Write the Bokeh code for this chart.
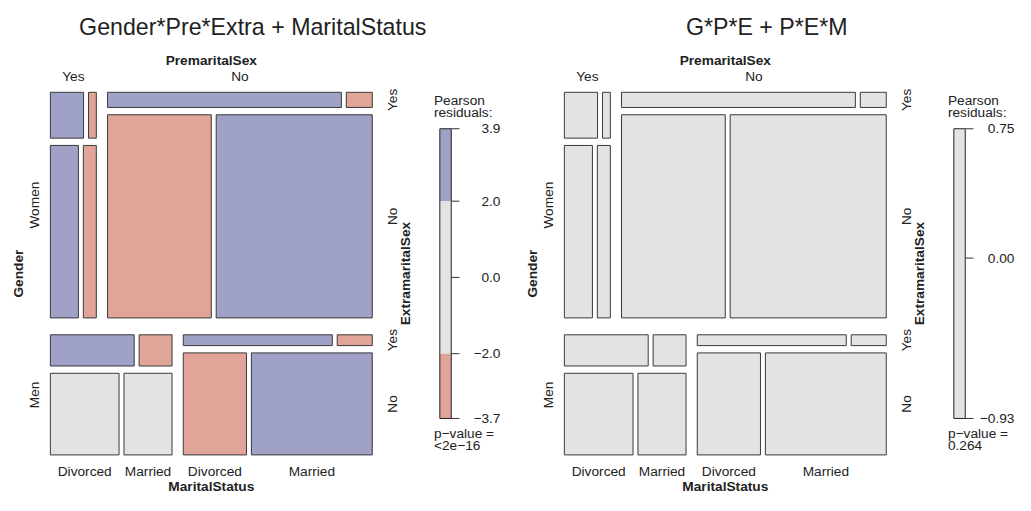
import numpy as np
from bokeh.plotting import figure
from bokeh.models import Range1d
from bokeh.core.properties import value
from bokeh.embed import file_html
from bokeh.resources import INLINE

# ---------------- data (PreSex table) ----------------
gender = ["Women", "Men"]
premarital = ["Yes", "No"]
extramarital = ["Yes", "No"]
marital = ["Divorced", "Married"]

# counts[extramarital][marital] for each gender / premarital combination
women_pre_yes = [[17, 4], [54, 25]]
women_pre_no = [[36, 4], [214, 322]]
men_pre_yes = [[28, 11], [60, 42]]
men_pre_no = [[17, 4], [68, 130]]

# residual shading (order: gender, pre, extra, marital)
# +1 = residual > 2 (blue), -1 = residual < -2 (red), 0 = not significant (grey)
shade_model1 = [1, -1, 1, -1,
                1, -1, -1, 1,
                1, -1, 0, 0,
                1, -1, -1, 1]
shade_model2 = [0] * 16

titles = ["Gender*Pre*Extra + MaritalStatus", "G*P*E + P*E*M"]
legend_ticks = [[3.9, 2.0, 0.0, -2.0, -3.7], [0.75, 0.0, -0.93]]
legend_labels = [["3.9", "2.0", "0.0", "\u22122.0", "\u22123.7"],
                 ["0.75", "0.00", "\u22120.93"]]
pvalues = ["<2e\u221216", "0.264"]

# ---------------- styling / layout ----------------
FONT = value("Liberation Sans")
BLUE, GREY, RED = "#9FA1C7", "#E3E3E4", "#E1A498"
SHADE_COL = {1: BLUE, 0: GREY, -1: RED}
EDGE = "#3A3A3A"
TITLE_FS = "23.2px"
LAB_FS = "13.7px"

p = figure(width=1015, height=495,
           x_range=Range1d(0, 1032), y_range=Range1d(513, -3),
           toolbar_location=None, output_backend="svg",
           x_axis_location=None, y_axis_location=None, min_border=0)
p.grid.visible = False
p.outline_line_color = None
p.background_fill_color = "white"

counts = np.array([[women_pre_yes, women_pre_no],
                   [men_pre_yes, men_pre_no]], dtype=float)

GAPS = [17.6, 11.4, 7.6, 5.0]
DIRS = ["v", "h", "v", "h"]


def split(lo, hi, weights, gap):
    w = np.asarray(weights, float)
    avail = (hi - lo) - gap * (len(w) - 1)
    sizes = avail * w / w.sum()
    out, pos = [], lo
    for s in sizes:
        out.append((pos, pos + s))
        pos += s + gap
    return out


def layout(key, box, boxes):
    boxes[key] = box
    level = len(key)
    if level == counts.ndim:
        return
    sub = counts[key]
    weights = [sub[i].sum() for i in range(sub.shape[0])]
    x0, x1, y0, y1 = box
    if DIRS[level] == "v":
        for i, (a, b) in enumerate(split(y0, y1, weights, GAPS[level])):
            layout(key + (i,), (x0, x1, a, b), boxes)
    else:
        for i, (a, b) in enumerate(split(x0, x1, weights, GAPS[level])):
            layout(key + (i,), (a, b, y0, y1), boxes)


def txt(x, y, s, size=LAB_FS, bold=False, align="center", angle=0.0):
    p.text(x=x, y=y, text=s, text_font=FONT, text_font_size=size,
           text_font_style="bold" if bold else "normal",
           text_align=align, text_baseline="middle", angle=angle,
           text_color="#222222")


def panel(dx, title, shades, ticks, tick_labels, pval):
    X0, X1, Y0, Y1 = 50.7 + dx, 378.0 + dx, 92.7, 470.7
    boxes = {}
    layout((), (X0, X1, Y0, Y1), boxes)

    cells = sorted(k for k in boxes if len(k) == 4)
    left, right, top, bottom, colors = [], [], [], [], []
    for k in cells:
        x0, x1, y0, y1 = boxes[k]
        idx = k[0] * 8 + k[1] * 4 + k[2] * 2 + k[3]
        left.append(x0); right.append(x1); top.append(y0); bottom.append(y1)
        colors.append(SHADE_COL[shades[idx]])
    p.quad(left=left, right=right, top=top, bottom=bottom,
           fill_color=colors, line_color=EDGE, line_width=1)

    cx = (X0 + X1) / 2
    cy = (Y0 + Y1) / 2
    # title
    txt([256.5 + dx], [24.2], [title], size=TITLE_FS)
    # PremaritalSex (top)
    txt([cx], [59.3], ["PremaritalSex"], bold=True)
    xs = [(boxes[(0, i)][0] + boxes[(0, i)][1]) / 2 for i in range(2)]
    txt(xs, [76.7] * 2, premarital)
    # Gender (left)
    ys = [(boxes[(g,)][2] + boxes[(g,)][3]) / 2 for g in range(2)]
    txt([35.0 + dx] * 2, ys, gender, angle=np.pi / 2)
    txt([18.3 + dx], [cy], ["Gender"], bold=True, angle=np.pi / 2)
    # ExtramaritalSex (right)
    ys, labs = [], []
    for g in range(2):
        for e in range(2):
            b = boxes[(g, 1, e)]
            ys.append((b[2] + b[3]) / 2)
            labs.append(extramarital[e])
    txt([398.3 + dx] * 4, ys, labs, angle=np.pi / 2)
    txt([411.7 + dx], [cy], ["ExtramaritalSex"], bold=True, angle=np.pi / 2)
    # MaritalStatus (bottom)
    xs, labs = [], []
    for pr in range(2):
        for m in range(2):
            b = boxes[(1, pr, 1, m)]
            xs.append((b[0] + b[1]) / 2)
            labs.append(marital[m])
    txt(xs, [488.3] * 4, labs)
    txt([cx], [504.0], ["MaritalStatus"], bold=True)

    # legend
    LX0, LX1, LT, LB = 446.7 + dx, 458.3 + dx, 130.7, 432.7
    vmax, vmin = ticks[0], ticks[-1]

    def vy(v):
        return LT + (vmax - v) / (vmax - vmin) * (LB - LT)

    bands = [(2.0, np.inf, BLUE), (-2.0, 2.0, GREY), (-np.inf, -2.0, RED)]
    sl, sr, st, sb, sc = [], [], [], [], []
    for lo, hi, col in bands:
        a, b = max(lo, vmin), min(hi, vmax)
        if b > a:
            sl.append(LX0); sr.append(LX1); st.append(vy(b)); sb.append(vy(a)); sc.append(col)
    p.quad(left=sl, right=sr, top=st, bottom=sb, fill_color=sc, line_color=None)
    p.quad(left=[LX0], right=[LX1], top=[LT], bottom=[LB],
           fill_color=None, line_color="#222222", line_width=1)
    tys = [vy(v) for v in ticks]
    p.segment(x0=[LX1] * len(ticks), x1=[466.7 + dx] * len(ticks), y0=tys, y1=tys,
              line_color="#333333", line_width=1)
    txt([508.3 + dx] * len(ticks), tys, tick_labels, align="right")
    txt([440.7 + dx] * 2, [101.7, 113.8], ["Pearson", "residuals:"], align="left")
    txt([440.7 + dx] * 2, [448.3, 461.2], ["p\u2212value =", pval], align="left")


DX = 522.6
for i in range(2):
    panel(i * DX, titles[i], [shade_model1, shade_model2][i],
          legend_ticks[i], legend_labels[i], pvalues[i])

open("out.html", "w").write(file_html(p, INLINE))
